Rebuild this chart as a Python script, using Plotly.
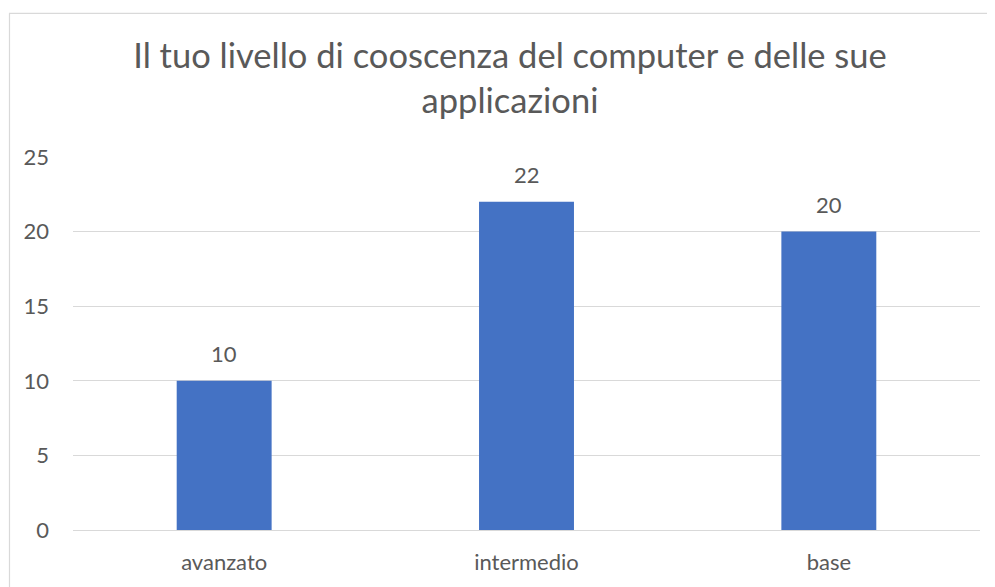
import plotly.graph_objects as go

categories = ["avanzato", "intermedio", "base"]
values = [10, 22, 20]
y_ticks = [0, 5, 10, 15, 20, 25]
title_text = "Il tuo livello di cooscenza del computer e delle sue<br>applicazioni"

TEXT = "#595959"
GRID = "#D9D9D9"
BAR = "#4472C4"
FONT = "Lato, Carlito, Calibri, sans-serif"

# the page body adds an 8px offset; work in screen pixels and subtract it
OFF = 8
W, H = 995 - OFF, 587 - OFF
L, R, T, B = 73 - OFF, 15, 157 - OFF, 52
pw = W - L - R
ph = H - T - B

def px(sx):
    return (sx - OFF - L) / pw

def py(sy):
    return (H - B - (sy - OFF)) / ph

fig = go.Figure()
fig.add_trace(go.Bar(x=categories, y=values, marker=dict(color=BAR, line=dict(width=0)),
                     hoverinfo="skip"))

for c, v in zip(categories, values):
    fig.add_annotation(x=c, y=v, text=str(v), showarrow=False, xanchor="center",
                       yanchor="bottom", yshift=12, font=dict(family=FONT, size=22, color=TEXT))

fig.add_shape(type="rect", xref="paper", yref="paper",
              x0=px(9.5), x1=px(1012), y0=py(600), y1=py(11.5),
              line=dict(color=GRID, width=1.2), fillcolor="rgba(0,0,0,0)", layer="below")

fig.update_layout(
    width=W, height=H,
    margin=dict(l=L, r=R, t=T, b=B),
    paper_bgcolor="white", plot_bgcolor="white",
    bargap=0.686,
    showlegend=False,
    title=dict(text=title_text, x=(510 - OFF) / W, xanchor="center", xref="container",
               y=1 - 60 / H, yanchor="top", yref="container",
               font=dict(family=FONT, size=34.5, color=TEXT)),
    font=dict(family=FONT, color=TEXT),
    xaxis=dict(showgrid=False, showline=False, zeroline=False, ticks="",
               tickfont=dict(family=FONT, size=22, color=TEXT), ticklabelstandoff=17),
    yaxis=dict(range=[0, 25], tickvals=y_ticks, showgrid=True, gridcolor=GRID, gridwidth=1.3,
               zeroline=True, zerolinecolor=GRID, zerolinewidth=1.3, showline=False, ticks="",
               tickfont=dict(family=FONT, size=22, color=TEXT), ticklabelstandoff=23),
)

fig.write_html("out.html")
